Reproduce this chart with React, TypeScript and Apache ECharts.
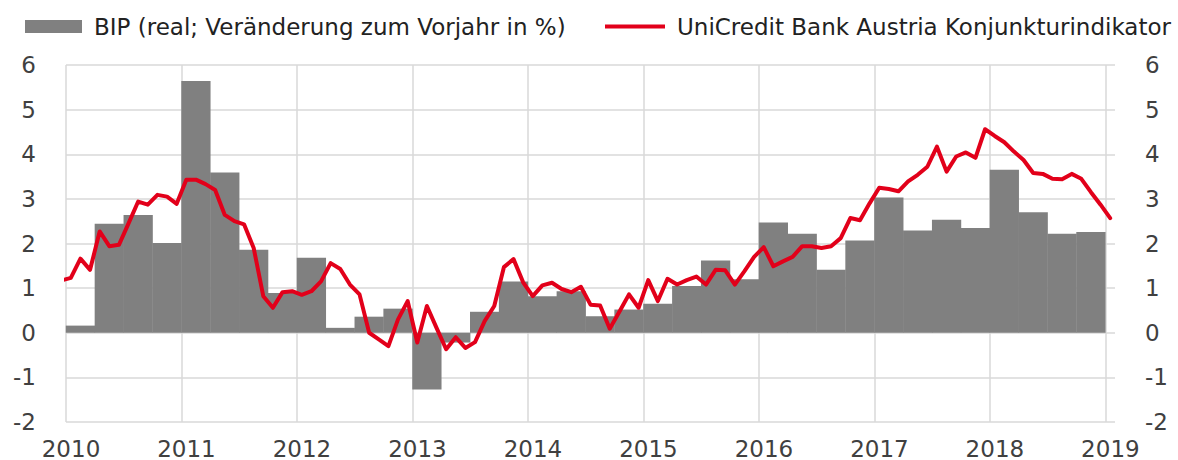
import React, { useEffect, useRef } from "react";
import * as echarts from "echarts";

// Tick labels (years on the x axis)
const yearTicks = [2010, 2011, 2012, 2013, 2014, 2015, 2016, 2017, 2018, 2019];
const yTicks = [-2, -1, 0, 1, 2, 3, 4, 5, 6];

// Quarterly GDP (real, % y/y), 2010Q1 .. 2018Q4
const gdpQuarters = [
  "2010Q1", "2010Q2", "2010Q3", "2010Q4",
  "2011Q1", "2011Q2", "2011Q3", "2011Q4",
  "2012Q1", "2012Q2", "2012Q3", "2012Q4",
  "2013Q1", "2013Q2", "2013Q3", "2013Q4",
  "2014Q1", "2014Q2", "2014Q3", "2014Q4",
  "2015Q1", "2015Q2", "2015Q3", "2015Q4",
  "2016Q1", "2016Q2", "2016Q3", "2016Q4",
  "2017Q1", "2017Q2", "2017Q3", "2017Q4",
  "2018Q1", "2018Q2", "2018Q3", "2018Q4",
];
const gdpValues = [
  0.16, 2.44, 2.64, 2.01,
  5.64, 3.59, 1.86, 0.89,
  1.68, 0.11, 0.36, 0.54,
  -1.27, -0.22, 0.47, 1.15,
  0.82, 0.93, 0.37, 0.52,
  0.65, 1.05, 1.62, 1.2,
  2.47, 2.22, 1.41, 2.07,
  3.03, 2.29, 2.53, 2.35,
  3.65, 2.7, 2.22, 2.26,
];

// Monthly UniCredit Bank Austria business indicator, Dec 2009 .. Jan 2019
const indicatorStart = { year: 2009, month: 12 };
const indicatorValues = [
  1.17,
  1.23, 1.66, 1.41, 2.27, 1.94, 1.97, 2.45, 2.94, 2.87, 3.09, 3.05, 2.89, // 2010
  3.43, 3.43, 3.33, 3.2, 2.64, 2.5, 2.43, 1.9, 0.82, 0.56, 0.91, 0.93, // 2011
  0.85, 0.93, 1.15, 1.56, 1.43, 1.08, 0.86, 0.0, -0.15, -0.3, 0.3, 0.71, // 2012
  -0.22, 0.6, 0.11, -0.37, -0.1, -0.34, -0.21, 0.26, 0.6, 1.47, 1.65, 1.13, // 2013
  0.82, 1.06, 1.12, 0.98, 0.91, 1.03, 0.63, 0.61, 0.09, 0.47, 0.86, 0.56, // 2014
  1.18, 0.71, 1.21, 1.08, 1.18, 1.26, 1.08, 1.41, 1.4, 1.08, 1.38, 1.7, // 2015
  1.92, 1.49, 1.6, 1.7, 1.94, 1.94, 1.9, 1.94, 2.12, 2.57, 2.52, 2.9, // 2016
  3.25, 3.22, 3.17, 3.39, 3.54, 3.72, 4.17, 3.61, 3.95, 4.04, 3.92, 4.56, // 2017
  4.41, 4.27, 4.06, 3.87, 3.58, 3.56, 3.45, 3.44, 3.56, 3.45, 3.15, 2.87, // 2018
  2.57, // Jan 2019
];

const seriesNames = [
  "BIP (real; Veränderung zum Vorjahr in %)",
  "UniCredit Bank Austria Konjunkturindikator",
];

const W = 1178;
const H = 460;
const GRID_LEFT = 66;
const GRID_RIGHT = 63;
const X_MIN = 2010;
const X_MAX = 2019 + 1 / 12;

function quarterCenter(q: string): number {
  const y = parseInt(q.slice(0, 4), 10);
  const n = parseInt(q.slice(5), 10);
  return y + (n - 0.5) / 4;
}

export default function App() {
  const ref = useRef<HTMLDivElement>(null);

  useEffect(() => {
    if (!ref.current) return;
    const chart = echarts.init(ref.current, undefined, { renderer: "svg" });

    const barData = gdpQuarters.map((q, i) => [quarterCenter(q), gdpValues[i]]);
    const lineData = indicatorValues.map((v, i) => {
      const m = indicatorStart.month - 1 + i;
      return [indicatorStart.year + (m + 0.5) / 12, v];
    });

    const pxPerYear = (W - GRID_LEFT - GRID_RIGHT) / (X_MAX - X_MIN);
    const barWidth = pxPerYear / 4 + 0.4;

    const font = "DejaVu Sans";
    const labelColor = "#404040";
    const gridColor = "#d9d9d9";

    chart.setOption({
      animation: false,
      backgroundColor: "#ffffff",
      legend: [
        {
          left: 25,
          top: 15,
          padding: 0,
          itemWidth: 57,
          itemHeight: 13,
          icon: "rect",
          data: [seriesNames[0]],
          textStyle: { fontFamily: font, fontSize: 23, color: "#222", padding: [0, 0, 0, 7] },
        },
        {
          left: 605,
          top: 15,
          padding: 0,
          itemWidth: 60,
          itemHeight: 4,
          icon: "rect",
          data: [seriesNames[1]],
          textStyle: { fontFamily: font, fontSize: 23, color: "#222", padding: [0, 0, 0, 7] },
        },
      ],
      grid: { left: GRID_LEFT, right: GRID_RIGHT, top: 65, bottom: 37, containLabel: false },
      xAxis: {
        type: "value",
        min: X_MIN,
        max: X_MAX,
        interval: 1,
        axisLine: { show: false },
        axisTick: { show: false },
        splitLine: { show: true, showMaxLine: false, lineStyle: { color: gridColor, width: 1.5 } },
        axisLabel: {
          showMaxLabel: false,
          margin: 15,
          fontFamily: font,
          fontSize: 23,
          color: labelColor,
          padding: [0, 0, 0, 10],
          formatter: (v: number) => (yearTicks.includes(Math.round(v * 1000) / 1000) ? String(v) : ""),
        },
      },
      yAxis: [
        {
          type: "value",
          min: yTicks[0],
          max: yTicks[yTicks.length - 1],
          interval: 1,
          axisLine: { show: false },
          axisTick: { show: false },
          splitLine: { show: true, lineStyle: { color: gridColor, width: 1.5 } },
          axisLabel: { margin: 30, fontFamily: font, fontSize: 23, color: labelColor },
        },
        {
          type: "value",
          position: "right",
          min: yTicks[0],
          max: yTicks[yTicks.length - 1],
          interval: 1,
          axisLine: { show: false },
          axisTick: { show: false },
          splitLine: { show: false },
          axisLabel: { margin: 30, fontFamily: font, fontSize: 23, color: labelColor },
        },
      ],
      series: [
        {
          name: seriesNames[0],
          type: "bar",
          data: barData,
          barWidth: barWidth,
          itemStyle: { color: "#808080" },
          z: 2,
        },
        {
          name: seriesNames[1],
          type: "line",
          data: lineData,
          symbol: "none",
          clip: true,
          lineStyle: { color: "#e2001a", width: 4, join: "round", cap: "round" },
          itemStyle: { color: "#e2001a" },
          z: 3,
        },
      ],
    });

    return () => chart.dispose();
  }, []);

  return (
    <div
      ref={ref}
      style={{ position: "absolute", left: 0, top: 0, width: W, height: H, background: "#fff" }}
    />
  );
}
